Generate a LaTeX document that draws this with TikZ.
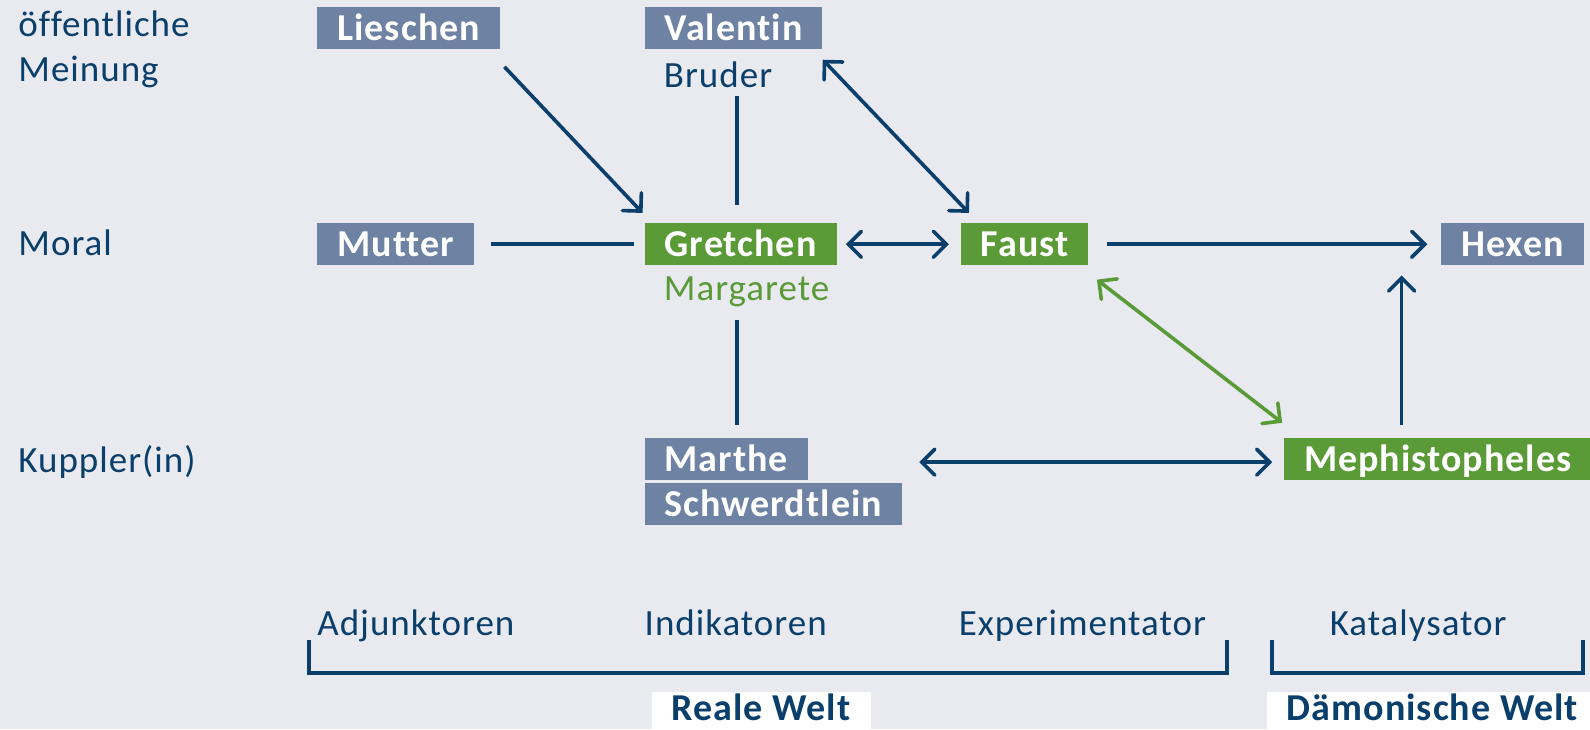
\documentclass[tikz,border=0pt]{standalone}
\usepackage{fontspec}
\setmainfont{Carlito}[LetterSpace=2.7, Ligatures=NoCommon]
\usepackage{tikz}
\usetikzlibrary{arrows.meta,calc,positioning}
\definecolor{bgcol}{HTML}{E8EAF0}
\definecolor{navy}{HTML}{0B3F6B}
\definecolor{slate}{HTML}{6E82A4}
\definecolor{leaf}{HTML}{5A9A37}
\tikzstyle{line} = [draw=navy, line width=3.6pt]
\tikzstyle{arrow} = [line, -{Straight Barb[length=13pt,width=26pt,line cap=round]}]
\tikzstyle{both} = [line, {Straight Barb[length=13pt,width=26pt,line cap=round]}-{Straight Barb[length=13pt,width=26pt,line cap=round]}]
\tikzstyle{person} = [rectangle, fill=slate, text=white, anchor=west,
  font={\fontsize{38}{44}\selectfont\bfseries}, inner xsep=20pt, inner ysep=8.5pt,
  text height=25pt, text depth=0pt]
\tikzstyle{hero} = [person, fill=leaf]
\tikzstyle{lbl} = [anchor=base west, inner sep=0pt, text=navy,
  font={\fontsize{37}{45}\selectfont}]
\tikzstyle{world} = [rectangle, fill=white, text=navy, anchor=north west,
  font={\fontsize{38}{44}\selectfont\bfseries}, inner xsep=20pt, inner ysep=3pt,
  text height=25pt, text depth=20pt]

\begin{document}
\begin{tikzpicture}[x=1pt, y=-1pt]
    \fill [bgcol] (0,0) rectangle (1590,729);
    \useasboundingbox (0,0) rectangle (1590,729);
  \begin{scope}[scale=1.0134]
    % rows
    \node [lbl, anchor=north west, align=left] (meinung) at (18,10)
      {öffentliche\\Meinung};
    \node [lbl] (moral) at (18,252) {Moral};
    \node [lbl] (kuppler) at (18,466) {Kuppler(in)};
    % persons
    \node [person] (lieschen) at (313,28) {Lieschen};
    \node [person] (valentin) at (636,28) {Valentin};
    \node [lbl] (bruder) at (655,86) {Bruder};
    \node [person] (mutter) at (313,241) {Mutter};
    \node [hero] (gretchen) at (636,241) {Gretchen};
    \node [lbl, text=leaf] (margarete) at (655,297) {Margarete};
    \node [hero] (faust) at (948,241) {Faust};
    \node [person] (hexen) at (1422,241) {Hexen};
    \node [person] (marthe) at (636,453) {Marthe};
    \node [person] (schwerdtlein) at (636,497) {Schwerdtlein};
    \node [hero] (mephisto) at (1267,453) {Mephistopheles};
    % roles
    \node [lbl] (adjunktoren) at (313,627) {Adjunktoren};
    \node [lbl] (indikatoren) at (636,627) {Indikatoren};
    \node [lbl] (experimentator) at (946,627) {Experimentator};
    \node [lbl] (katalysator) at (1312,627) {Katalysator};
    % brackets
    \draw [line] (305,632) -- (305,664) -- (1211,664) -- (1211,632);
    \draw [line] (1255,632) -- (1255,664) -- (1562,664) -- (1562,632);
    \node [world] (reale) at (643,683) {Reale Welt};
    \node [world] (daemon) at (1250,683) {Dämonische Welt};
    % connectors
    \path [arrow] ([shift={(4,17)}]lieschen.south east)
      -- ([shift={(-2,-10)}]gretchen.north west);
    \path [both] ([shift={(0,10)}]valentin.south east)
      -- ([shift={(8,-10)}]faust.north west);
    \path [line, shorten <=8pt, shorten >=18pt]
      ([xshift=-4pt]bruder.south -| gretchen.north) -- ([xshift=-4pt]gretchen.north);
    \path [line, shorten <=17pt, shorten >=11pt] (mutter.east) -- (gretchen.west);
    \path [both, shorten <=9pt, shorten >=12pt] (gretchen.east) -- (faust.west);
    \path [arrow, shorten <=18pt, shorten >=14pt] (faust.east) -- (hexen.west);
    \path [line, shorten <=12pt, shorten >=13pt]
      ([xshift=-4pt]margarete.south -| gretchen.south)
      -- ([xshift=-4pt]marthe.north -| gretchen.south);
    \path [both, draw=leaf] ([shift={(8,14)}]faust.south east)
      -- ([shift={(-2,-15)}]mephisto.north west);
    \path [both, shorten <=17pt, shorten >=12pt]
      ($(schwerdtlein.east |- marthe.east)+(0,3)$) -- ($(mephisto.west)+(0,3)$);
    \path [arrow, shorten <=13pt, shorten >=10pt]
      ([xshift=-36pt]mephisto.north) -- ([xshift=-36pt]mephisto.north |- hexen.south);
  \end{scope}
  \end{tikzpicture}
\end{document}
